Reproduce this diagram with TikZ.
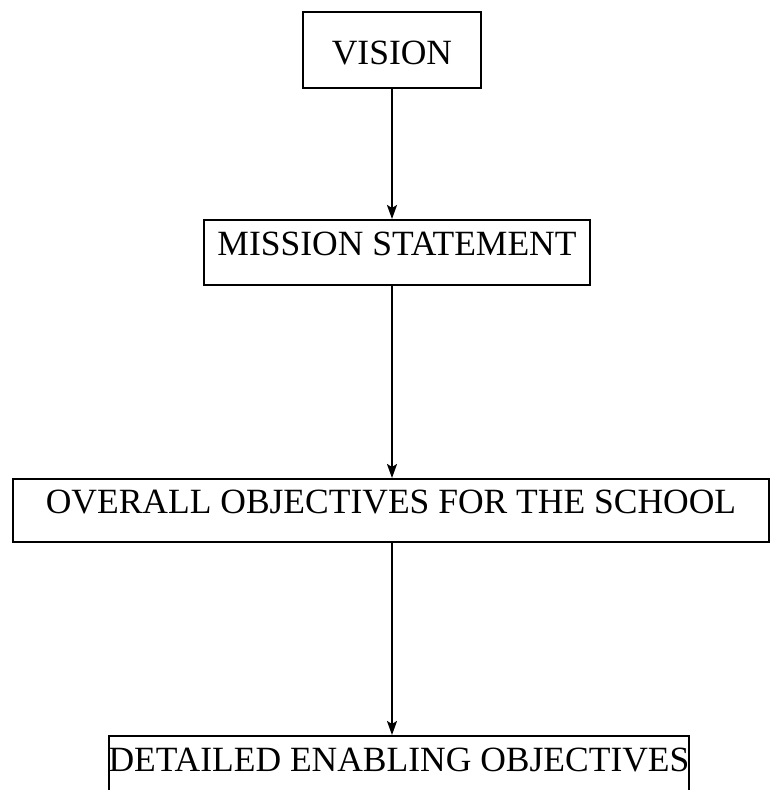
\documentclass[tikz,border=0pt]{standalone}
\usepackage{fontspec}
\setmainfont{Liberation Serif}
\usetikzlibrary{positioning,arrows.meta}

\tikzset{
  box/.style={draw,line width=2pt,inner sep=0pt,minimum height=65pt,
    text height=23pt,text depth=16pt,font=\fontsize{35.5}{40}\selectfont},
  flow/.style={-{Stealth[length=14pt,width=10pt,inset=3pt]},line width=2pt}
}

\begin{document}
\begin{tikzpicture}[x=1pt,y=1pt]
  \useasboundingbox (0,0) rectangle (773,790);

  % Vision
  \node [box,minimum width=178pt,minimum height=76pt,text height=30pt,text depth=0pt] (vision) at (392,740) {VISION};

  % Mission statement
  \node [box,minimum width=386pt,below=130pt of vision,xshift=5pt] (mission) {MISSION STATEMENT};

  % Overall objectives
  \node [box,minimum width=756pt,minimum height=63pt,below=192pt of mission,xshift=-6pt] (overall) {OVERALL OBJECTIVES FOR THE SCHOOL};

  % Detailed objectives
  \node [box,minimum width=574pt,below=192pt of overall,xshift=8pt] (detailed) {DETAILED ENABLING OBJECTIVES};

  \draw [flow] (vision.south) -- (vision.south |- mission.north);
  \draw [flow] (vision.south |- mission.south) -- (vision.south |- overall.north);
  \draw [flow] (vision.south |- overall.south) -- (vision.south |- detailed.north);

\end{tikzpicture}
\end{document}
